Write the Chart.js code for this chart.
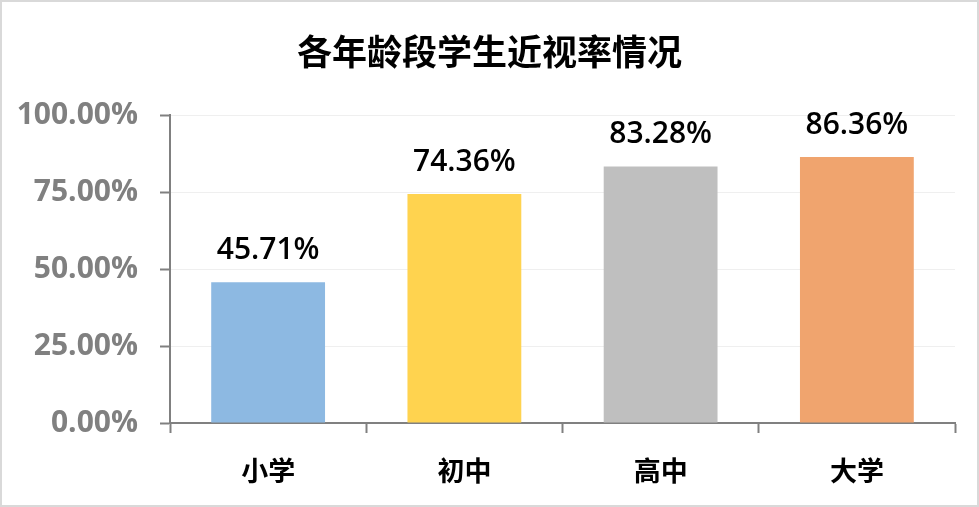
<!DOCTYPE html>
<html>
<head>
<meta charset="utf-8">
<script src="https://cdn.jsdelivr.net/npm/chart.js@4.4.1/dist/chart.umd.min.js"></script>
<style>
  html, body { margin: 0; padding: 0; background: #fff; }
  #wrap { width: 979px; height: 507px; position: relative; }
</style>
</head>
<body>
<div id="wrap"><canvas id="c" width="979" height="507"></canvas></div>
<script>
// chart data
const categories = ['小学', '初中', '高中', '大学']
const rates = [45.71, 74.36, 83.28, 86.36]
const barColors = ['#8DB9E2', '#FFD34F', '#BFBFBF', '#F0A46E']
const yTicks = [0, 25, 50, 75, 100]

const titleText = '各年龄段学生近视率情况'
const cjk = '"Noto Sans CJK SC", "Microsoft YaHei", sans-serif'
const latin = '"Open Sans", "DejaVu Sans", sans-serif'

// Outer frame like the office chart border, plus the centred title
const framePlugin = {
  id: 'frame',
  beforeDraw(chart) {
    const ctx = chart.ctx
    ctx.save()
    ctx.fillStyle = '#fff'
    ctx.fillRect(0, 0, chart.width, chart.height)
    ctx.strokeStyle = '#D9D9D9'
    ctx.lineWidth = 2
    ctx.strokeRect(1, 1, chart.width - 2, chart.height - 2)
    ctx.font = 'bold 35px ' + cjk
    ctx.fillStyle = '#000'
    ctx.textAlign = 'center'
    ctx.textBaseline = 'middle'
    ctx.fillText(titleText, chart.width / 2, 52)
    ctx.restore()
  }
}

// Value labels above each bar
const valueLabels = {
  id: 'valueLabels',
  afterDatasetsDraw(chart) {
    const ctx = chart.ctx
    const meta = chart.getDatasetMeta(0)
    ctx.save()
    ctx.font = '600 30px ' + latin
    ctx.fillStyle = '#000'
    ctx.textAlign = 'center'
    ctx.textBaseline = 'bottom'
    meta.data.forEach((bar, i) => {
      ctx.fillText(rates[i].toFixed(2) + '%', bar.x, bar.y - 17)
    })
    ctx.restore()
  }
}

new Chart(document.getElementById('c'), {
  type: 'bar',
  data: {
    labels: categories,
    datasets: [{
      data: rates,
      backgroundColor: barColors,
      borderWidth: 0,
      barPercentage: 0.58,
      categoryPercentage: 1.0
    }]
  },
  options: {
    responsive: false,
    animation: false,
    layout: { padding: { top: 115, right: 24, bottom: 0, left: 0 } },
    plugins: {
      legend: { display: false },
      tooltip: { enabled: false },
      title: { display: false }
    },
    scales: {
      x: {
        grid: {
          offset: true,
          drawOnChartArea: false,
          tickLength: 10,
          tickColor: '#808080',
          tickWidth: 2
        },
        border: { color: '#808080', width: 2 },
        ticks: {
          color: '#000',
          padding: 22,
          font: { family: cjk, size: 27, weight: 'bold' }
        },
        afterFit(scale) { scale.height = 84 }
      },
      y: {
        min: 0,
        max: 100,
        afterBuildTicks(scale) { scale.ticks = yTicks.map(v => ({ value: v })) },
        grid: {
          color: '#EFEFEF',
          lineWidth: 1,
          tickLength: 10,
          tickColor: '#808080',
          tickWidth: 2
        },
        border: { color: '#808080', width: 2 },
        ticks: {
          color: '#808080',
          padding: 22,
          font: { family: latin, size: 30, weight: 'bold' },
          callback: (v) => v.toFixed(2) + '%'
        },
        afterFit(scale) { scale.width = 170 }
      }
    }
  },
  plugins: [framePlugin, valueLabels]
})
</script>
</body>
</html>
